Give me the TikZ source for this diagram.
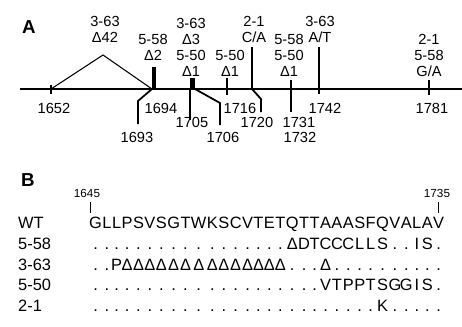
\documentclass[tikz,border=0pt]{standalone}
\usepackage{fontspec}
\setmainfont{Liberation Sans}
\usetikzlibrary{positioning}

\begin{document}
\begin{tikzpicture}[x=0.03cm,y=-0.03cm,
  lbl/.style={inner sep=0pt,align=center,font=\fontsize{12.5}{13.8}\selectfont},
  num/.style={inner sep=0pt,font=\fontsize{12.5}{13.8}\selectfont},
  row/.style={inner sep=0pt,anchor=base west,font=\fontsize{14}{15}\selectfont},
  aa/.style={inner sep=0pt,font=\fontsize{14}{15}\selectfont},
  posnum/.style={inner sep=0pt,font=\fontsize{10}{10}\selectfont},
  tag/.style={inner sep=0pt,font=\bfseries\fontsize{16}{16}\selectfont},
  site/.style={line width=1.5pt}]
\useasboundingbox (0,0) rectangle (462,327);
\node[tag] (pa) at (29,27) {A};
\coordinate (l0) at (20,89);
\coordinate (l1) at (462,89);
\coordinate (p1652) at (51,89);
\coordinate (apex) at (103,55);
\coordinate (p1693) at (152,89);
\coordinate (p1694) at (154,89);
\coordinate (p1705) at (190,89);
\coordinate (p1706) at (195,89);
\coordinate (p1716) at (227,89);
\coordinate (p1720) at (252,89);
\coordinate (p1731) at (291,89);
\coordinate (p1742) at (319,89);
\coordinate (p1781) at (429,89);
\draw[line width=2.5pt] (l0) -- (l1);
\draw[line width=0.9pt] (p1652) -- (apex) -- (p1693);
\draw[site] (p1652) ++(0,-4) -- ++(0,9);
\draw[line width=2.6pt] (p1694) -- ++(0,-22);
\fill (p1705) rectangle ++(5,-11);
\draw[site] (p1716) ++(0,-11) -- ++(0,17);
\draw[site] (p1720) -- ++(0,-42);
\draw[site] (p1731) ++(0,-9) -- ++(0,32);
\draw[site] (p1742) ++(0,-42) -- ++(0,47);
\draw[site] (p1781) ++(0,-9) -- ++(0,15);
\draw[site] (p1693) -- ++(-14,12) -- ++(0,23);
\draw[site] (p1705) -- ++(0,31);
\draw[site] (p1706) -- ++(25,14) -- ++(0,22);
\draw[site] (p1720) -- ++(9,10) -- ++(0,13);
\node[lbl,anchor=south] (t1652) at (105,43) {3-63\\Δ42};
\node[lbl,anchor=south] (t1694) at (153,61) {5-58\\Δ2};
\node[lbl,anchor=south] (t1705) at (191,77) {3-63\\Δ3\\5-50\\Δ1};
\node[lbl,anchor=south] (t1716) at (230,77) {5-50\\Δ1};
\node[lbl,anchor=south] (t1720) at (254,43) {2-1\\C/A};
\node[lbl,anchor=south] (t1731) at (289,77) {5-58\\5-50\\Δ1};
\node[lbl,anchor=south] (t1742) at (320,43) {3-63\\A/T};
\node[lbl,anchor=south] (t1781) at (429,77) {2-1\\5-58\\G/A};
\node[num,anchor=north] (b1652) at (54,103) {1652};
\node[num,anchor=north] (b1694) at (161,103) {1694};
\node[num,anchor=north] (b1716) at (240,103) {1716};
\node[num,anchor=north] (b1742) at (325,103) {1742};
\node[num,anchor=north] (b1781) at (432,103) {1781};
\node[num,anchor=north] (b1705) at (192,117) {1705};
\node[num,anchor=north] (b1720) at (257,117) {1720};
\node[num,anchor=north] (b1731) at (299,117) {1731};
\node[num,anchor=north] (b1693) at (137,132) {1693};
\node[num,anchor=north] (b1706) at (223,132) {1706};
\node[num,anchor=north] (b1732) at (300,132) {1732};
\node[tag] (pb) at (28,180) {B};
\node[posnum] (n1645) at (87,193) {1645};
\node[posnum] (n1735) at (437,193) {1735};
\draw[line width=0.8pt] (90,202) -- (90,213);
\draw[line width=0.8pt] (438,202) -- (438,213);
\node[row] (rwt) at (18,228) {WT};
\node[row] (r558) at (18,249) {5-58};
\node[row] (r363) at (18,270) {3-63};
\node[row] (r550) at (18,290) {5-50};
\node[row] (r21) at (18,311) {2-1};
\coordinate (wt0) at (89,228);
\foreach \c [count=\i,evaluate=\i as \j using int(\i-1)] in {G,L,L,P,S,V,S,G,T,W,K,S,C,V,T,E,T,Q,T,T,A,A,A,S,F,Q,V,A,L,A,V}
  \node[aa,anchor=base west] (wt\i) at (wt\j.base east) {\c};
\foreach \c [count=\i] in {.,.,.,.,.,.,.,.,.,.,.,.,.,.,.,.,.,Δ,D,T,C,C,C,L,L,S,.,.,I,S,.}
  \node[aa,anchor=base] (m558\i) at (wt\i.base |- r558.base) {\c};
\foreach \c [count=\i] in {.,.,P,Δ,Δ,Δ,Δ,Δ,Δ,Δ,Δ,Δ,Δ,Δ,Δ,Δ,Δ,.,.,.,Δ,.,.,.,.,.,.,.,.,.,.}
  \node[aa,anchor=base] (m363\i) at (wt\i.base |- r363.base) {\c};
\foreach \c [count=\i] in {.,.,.,.,.,.,.,.,.,.,.,.,.,.,.,.,.,.,.,.,V,T,P,P,T,S,G,G,I,S,.}
  \node[aa,anchor=base] (m550\i) at (wt\i.base |- r550.base) {\c};
\foreach \c [count=\i] in {.,.,.,.,.,.,.,.,.,.,.,.,.,.,.,.,.,.,.,.,.,.,.,.,.,K,.,.,.,.,.}
  \node[aa,anchor=base] (m21\i) at (wt\i.base |- r21.base) {\c};
\end{tikzpicture}
\end{document}
